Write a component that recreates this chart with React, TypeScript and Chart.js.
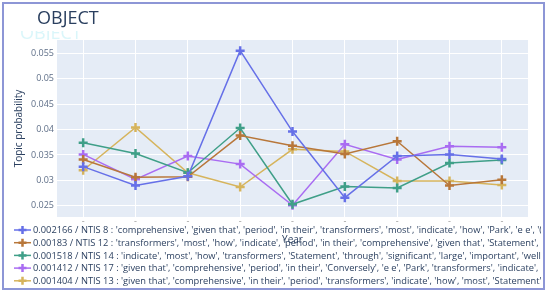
import React, { useEffect, useRef } from "react";
import { Chart, registerables } from "chart.js";

Chart.register(...registerables);

const categories = ["-", "-", "-", "-", "-", "-", "-", "-", "-"];
const yTicks = [0.025, 0.03, 0.035, 0.04, 0.045, 0.05, 0.055];

const ntis8 = [0.0327, 0.0290, 0.0308, 0.0555, 0.0396, 0.0266, 0.0348, 0.0351, 0.0342];
const ntis12 = [0.0341, 0.0306, 0.0307, 0.0388, 0.0368, 0.0352, 0.0377, 0.0290, 0.0301];
const ntis14 = [0.0374, 0.0353, 0.0315, 0.0403, 0.0253, 0.0288, 0.0285, 0.0334, 0.0340];
const ntis17 = [0.0351, 0.0302, 0.0348, 0.0332, 0.0251, 0.0371, 0.0341, 0.0367, 0.0365];
const ntis13 = [0.0320, 0.0404, 0.0315, 0.0287, 0.0361, 0.0357, 0.0299, 0.0299, 0.0291];

const seriesLabels = [
  "0.002166 / NTIS 8 : 'comprehensive', 'given that', 'period', 'in their', 'transformers', 'most', 'indicate', 'how', 'Park', 'e e', '(Conversely', 'Statement'",
  "0.00183 / NTIS 12 : 'transformers', 'most', 'how', 'indicate', 'period', 'in their', 'comprehensive', 'given that', 'Statement', 'Park'",
  "0.001518 / NTIS 14 : 'indicate', 'most', 'how', 'transformers', 'Statement', 'through', 'significant', 'large', 'important', 'well'",
  "0.001412 / NTIS 17 : 'given that', 'comprehensive', 'period', 'in their', 'Conversely', 'e e', 'Park', 'transformers', 'indicate', 'how'",
  "0.001404 / NTIS 13 : 'given that', 'comprehensive', 'in their', 'period', 'transformers', 'indicate', 'how', 'most', 'Statement', 'Park'",
];
const seriesColors = ["#6670e8", "#b8773a", "#3f9f88", "#a96cf2", "#d6b45c"];
const seriesValues = [ntis8, ntis12, ntis14, ntis17, ntis13];

const titleText = "OBJECT";
const yTitle = "Topic probability";
const xTitle = "Year";

function drawPlus(ctx: CanvasRenderingContext2D, x: number, y: number, r: number, color: string) {
  ctx.save();
  ctx.strokeStyle = color;
  ctx.lineWidth = 2.5;
  ctx.beginPath();
  ctx.moveTo(x - r, y);
  ctx.lineTo(x + r, y);
  ctx.moveTo(x, y - r);
  ctx.lineTo(x, y + r);
  ctx.stroke();
  ctx.restore();
}

export default function App() {
  const ref = useRef<HTMLCanvasElement | null>(null);
  useEffect(() => {
    if (!ref.current) return;
    const deco = {
      id: "deco",
      beforeDraw(chart: any) {
        const { ctx, chartArea: a } = chart;
        ctx.save();
        ctx.fillStyle = "#ffffff";
        ctx.fillRect(0, 0, chart.width, chart.height);
        ctx.fillStyle = "#E5ECF6";
        ctx.fillRect(a.left, a.top, a.right - a.left, a.bottom - a.top);
        ctx.restore();
      },
      afterDraw(chart: any) {
        const { ctx, chartArea: a } = chart;
        ctx.save();
        // ghost title
        ctx.save();
        ctx.beginPath();
        ctx.rect(0, 31, 120, 9);
        ctx.clip();
        ctx.fillStyle = "rgba(150,230,240,0.35)";
        ctx.font = '18px "Open Sans"';
        ctx.textBaseline = "middle";
        ctx.fillText(titleText, 20, 34);
        ctx.restore();
        // title
        ctx.fillStyle = "#2a3f5f";
        ctx.font = '18px "Open Sans"';
        ctx.textBaseline = "middle";
        ctx.textAlign = "left";
        ctx.fillText(titleText, 37, 19);
        // y title
        ctx.save();
        ctx.translate(19, (a.top + a.bottom) / 2);
        ctx.rotate(-Math.PI / 2);
        ctx.textAlign = "center";
        ctx.font = '10px "Open Sans"';
        ctx.fillStyle = "#2a3f5f";
        ctx.fillText(yTitle, 0, 0);
        ctx.restore();
        // x title
        ctx.textAlign = "center";
        ctx.font = '10px "Open Sans"';
        ctx.fillStyle = "#2a3f5f";
        ctx.fillText(xTitle, (a.left + a.right) / 2, 240);
        // legend
        ctx.save();
        ctx.beginPath();
        ctx.rect(0, 0, 541, chart.height);
        ctx.clip();
        ctx.textAlign = "left";
        ctx.font = '9.3px "Open Sans"';
        seriesLabels.forEach((lab, i) => {
          const y = 230 + i * 12.7;
          ctx.strokeStyle = seriesColors[i];
          ctx.lineWidth = 1.5;
          ctx.beginPath();
          ctx.moveTo(14, y);
          ctx.lineTo(31, y);
          ctx.stroke();
          drawPlus(ctx, 22.5, y, 4, seriesColors[i]);
          ctx.fillStyle = "#2a3f5f";
          ctx.fillText(lab, 33, y + 0.5);
        });
        ctx.restore();
        // border
        ctx.strokeStyle = "#8d96d6";
        ctx.lineWidth = 2;
        ctx.strokeRect(3, 3, 541, 286);
        ctx.restore();
      },
    };
    const chart = new Chart(ref.current, {
      type: "line",
      data: {
        labels: categories,
        datasets: seriesValues.map((vals, i) => ({
          label: seriesLabels[i],
          data: vals,
          borderColor: seriesColors[i],
          backgroundColor: seriesColors[i],
          borderWidth: 1.5,
          pointStyle: "cross",
          pointRadius: 4.5,
          pointBorderWidth: 2.5,
          pointBorderColor: seriesColors[i],
          tension: 0,
          fill: false,
        })),
      },
      options: {
        animation: false,
        responsive: false,
        devicePixelRatio: 1,
        layout: { padding: { left: 0, right: 22, top: 40, bottom: 0 } },
        plugins: { legend: { display: false }, tooltip: { enabled: false } },
        scales: {
          x: {
            type: "category",
            offset: true,
            grid: { color: "#ffffff", lineWidth: 1, drawTicks: false, offset: false },
            border: { display: false },
            ticks: { color: "#999", font: { size: 9, family: "Open Sans" }, padding: -1, maxRotation: 0, autoSkip: false },
            afterFit: (s: any) => {
              s.height = 77;
            },
          },
          y: {
            min: 0.0228,
            max: 0.0576,
            grid: { color: "#ffffff", lineWidth: 1, drawTicks: false },
            border: { display: false },
            ticks: {
              color: "#5f6f88",
              font: { size: 9, family: "Open Sans" },
              padding: 3,
              callback: (v: any) => String(+Number(v).toFixed(3)),
            },
            afterBuildTicks: (s: any) => {
              s.ticks = yTicks.map((v) => ({ value: v }));
            },
            afterFit: (s: any) => {
              s.width = 57;
            },
          },
        },
      },
      plugins: [deco],
    } as any);
    return () => chart.destroy();
  }, []);
  return (
    <div style={{ position: "fixed", left: 0, top: 0, width: 550, height: 294, background: "#fff" }}>
      <canvas ref={ref} width={550} height={294} style={{ width: 550, height: 294, display: "block" }} />
    </div>
  );
}
